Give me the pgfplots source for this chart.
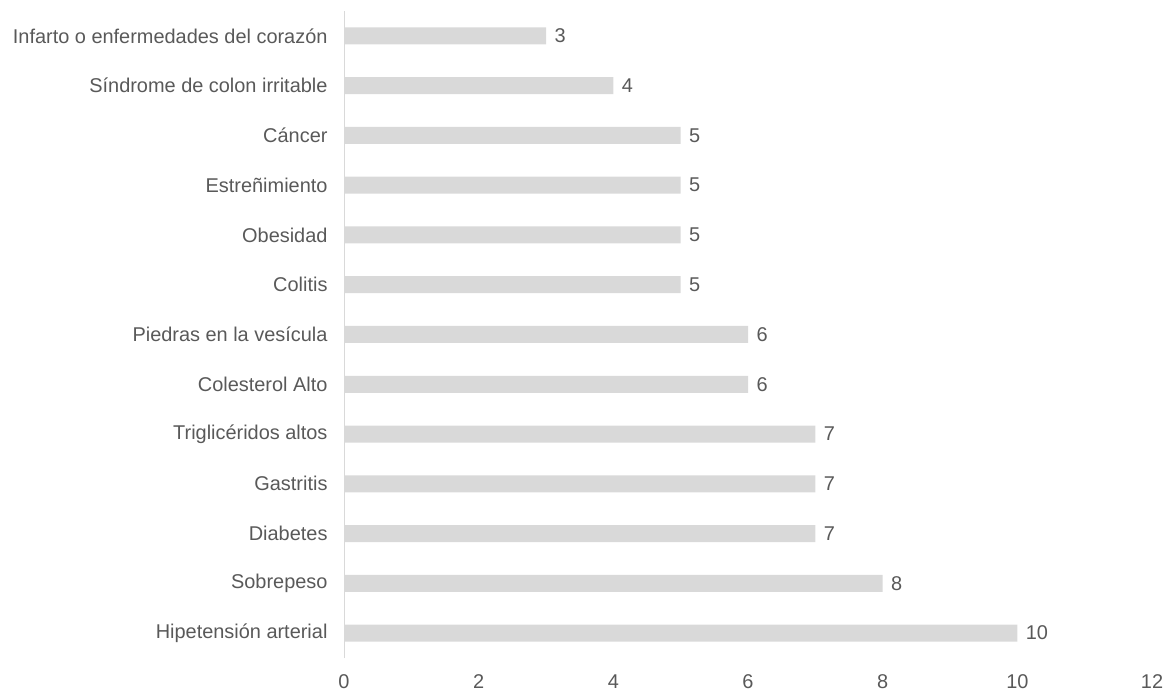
\documentclass[border=0pt]{standalone}
\usepackage{pgfplots}
\pgfplotsset{compat=1.18}
\usepackage{fontspec}
\setmainfont{Liberation Sans}
\definecolor{barfill}{HTML}{D9D9D9}
\definecolor{labeltext}{HTML}{595959}
\begin{document}
\begin{tikzpicture}
\path[use as bounding box] (0,0) rectangle (1171bp,692bp);
\begin{axis}[
  at={(344bp,34bp)}, anchor=south west,
  scale only axis, width=808bp, height=647bp,
  xbar, bar width=17bp,
  xmin=0, xmax=12, ymin=-0.5, ymax=12.5,
  axis lines*=left,
  x axis line style={draw=none},
  y axis line style={draw=barfill, line width=1bp, -},
  xtick={0,2,4,6,8,10,12},
  ytick={0,...,12},
  yticklabels={Hipetensión arterial, Sobrepeso, Diabetes, Gastritis, Triglicéridos altos, Colesterol Alto, Piedras en la vesícula, Colitis, Obesidad, Estreñimiento, Cáncer, Síndrome de colon irritable, Infarto o enfermedades del corazón},
  major tick length=0pt,
  tick label style={font=\fontsize{20}{24}\selectfont, text=labeltext},
  xticklabel style={anchor=base, yshift=-30bp},
  yticklabel style={xshift=-13bp},
  /pgf/number format/assume math mode=true,
  nodes near coords,
  nodes near coords align=horizontal,
  every node near coord/.append style={font=\fontsize{20}{24}\selectfont, text=labeltext, anchor=west, xshift=5bp},
]
\addplot[fill=barfill, draw=none] coordinates {
  (10,0) (8,1) (7,2) (7,3) (7,4) (6,5) (6,6) (5,7) (5,8) (5,9) (5,10) (4,11) (3,12)
};
\end{axis}
\end{tikzpicture}
\end{document}
